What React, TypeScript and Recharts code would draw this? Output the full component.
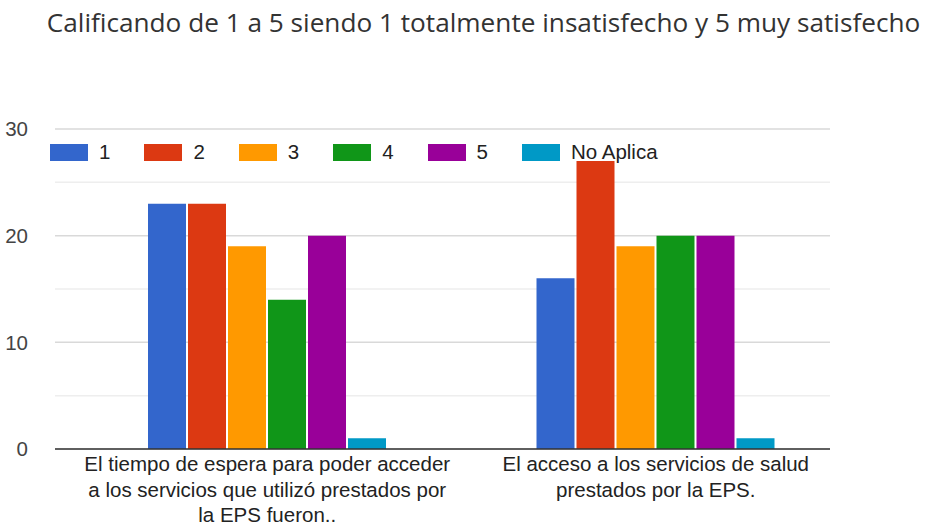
import React from 'react';
import { BarChart, Bar, XAxis, YAxis, CartesianGrid, Legend } from 'recharts';

// Survey questions (x categories) and how each is printed under the axis
const categories = [
  'El tiempo de espera para poder acceder a los servicios que utilizó prestados por la EPS fueron..',
  'El acceso a los servicios de salud prestados por la EPS.',
];
const tickLines = [
  ['El tiempo de espera para poder acceder', 'a los servicios que utilizó prestados por', 'la EPS fueron..'],
  ['El acceso a los servicios de salud', 'prestados por la EPS.'],
];

// Answer counts per rating
const rating1 = [23, 16];
const rating2 = [23, 27];
const rating3 = [19, 19];
const rating4 = [14, 20];
const rating5 = [20, 20];
const noAplica = [1, 1];

const seriesNames = ['1', '2', '3', '4', '5', 'No Aplica'];
const seriesColors = ['#3366cc', '#dc3912', '#ff9900', '#109618', '#990099', '#0099c6'];
const majorTicks = [0, 10, 20, 30];
const minorTicks = [5, 15, 25];
const Y_MAX = 30;

const TITLE = 'Calificando de 1 a 5 siendo 1 totalmente insatisfecho y 5 muy satisfecho';
const FONT = 'Arial, "Liberation Sans", sans-serif';

const data = categories.map((name, i) => ({
  name,
  '1': rating1[i],
  '2': rating2[i],
  '3': rating3[i],
  '4': rating4[i],
  '5': rating5[i],
  'No Aplica': noAplica[i],
}));

// Multi-line category label under the axis
const CategoryTick = ({ x, y, payload, index }: any) => {
  const lines = tickLines[index] ?? [payload.value];
  return (
    <text x={x} y={y + 14} textAnchor='middle' fill='#222' fontSize={20.5} fontFamily={FONT}>
      {lines.map((line, i) => (
        <tspan key={i} x={x} dy={i === 0 ? 0 : 25.5}>
          {line}
        </tspan>
      ))}
    </text>
  );
};

// Google-charts style legend: wide swatch, label, fixed spacing
const renderLegend = () => (
  <div style={{ display: 'flex', alignItems: 'center', fontFamily: FONT, fontSize: 20.5, color: '#222' }}>
    {seriesNames.map((name, i) => (
      <div key={name} style={{ display: 'flex', alignItems: 'center', width: i < seriesNames.length - 1 ? 94.4 : 'auto' }}>
        <span style={{ display: 'inline-block', width: 38, height: 17, background: seriesColors[i], marginRight: 11 }} />
        <span>{name}</span>
      </div>
    ))}
  </div>
);

// minor gridlines at the half steps (linear y axis from 0 to Y_MAX)
const minorLines = ({ yAxis, offset }: any) =>
  minorTicks.map((v) =>
    typeof yAxis?.scale === 'function' ? yAxis.scale(v) : offset.top + offset.height * (1 - v / Y_MAX)
  );

export default function App() {
  return (
    <div style={{ position: 'absolute', left: 0, top: 0, width: 930, height: 531, background: '#fff' }}>
      <div
        style={{
          position: 'absolute',
          left: 0,
          width: 967,
          top: 4,
          textAlign: 'center',
          fontFamily: '"Open Sans", Roboto, sans-serif',
          fontSize: 26.2,
          color: '#333',
          whiteSpace: 'nowrap',
        }}
      >
        {TITLE}
      </div>
      <BarChart
        width={930}
        height={531}
        data={data}
        margin={{ top: 129, right: 100, bottom: 7, left: 0 }}
        barSize={38}
        barGap={2}
      >
        <CartesianGrid vertical={false} horizontalCoordinatesGenerator={minorLines} stroke='#eeeeee' strokeWidth={1.5} />
        <CartesianGrid vertical={false} stroke='#d9d9d9' strokeWidth={1.5} />
        <XAxis
          dataKey='name'
          axisLine={{ stroke: '#333', strokeWidth: 1.5 }}
          tickLine={false}
          height={75}
          interval={0}
          padding={{ left: 18, right: -20 }}
          tick={<CategoryTick />}
        />
        <YAxis
          domain={[0, Y_MAX]}
          ticks={majorTicks}
          axisLine={false}
          tickLine={false}
          tickSize={0}
          tickMargin={27}
          width={55}
          tick={{ fill: '#444', fontSize: 20.5, fontFamily: FONT }}
        />
        <Legend
          verticalAlign='middle'
          align='center'
          layout='horizontal'
          content={renderLegend}
          wrapperStyle={{ top: 140, left: 50, width: 'auto', height: 'auto' }}
        />
        {seriesNames.map((key, i) => (
          <Bar key={key} dataKey={key} fill={seriesColors[i]} isAnimationActive={false} />
        ))}
      </BarChart>
    </div>
  );
}
